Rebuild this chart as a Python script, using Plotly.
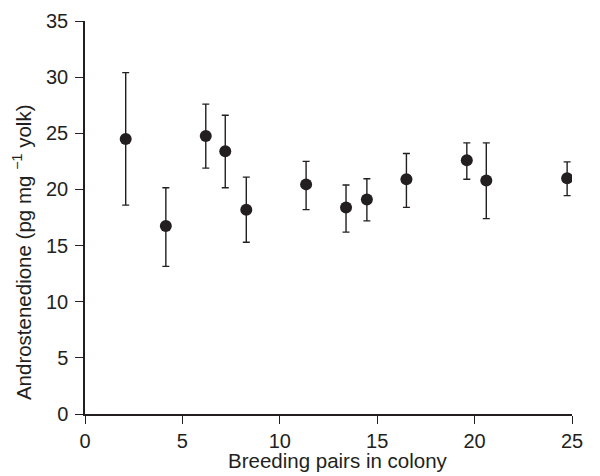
import plotly.graph_objects as go

pairs = [2.09, 4.15, 6.2, 7.2, 8.28, 11.35, 13.4, 14.47, 16.5, 19.6, 20.6, 24.75]
andro = [24.5, 16.75, 24.75, 23.4, 18.2, 20.45, 18.4, 19.1, 20.9, 22.6, 20.8, 21.0]
upper = [30.4, 20.15, 27.6, 26.6, 21.1, 22.5, 20.4, 20.95, 23.2, 24.15, 24.15, 22.45]
lower = [18.6, 13.15, 21.9, 20.15, 15.3, 18.2, 16.2, 17.2, 18.4, 20.9, 17.4, 19.45]

err_plus = [u - m for u, m in zip(upper, andro)]
err_minus = [m - l for m, l in zip(andro, lower)]

ink = "#231f20"
font = "Liberation Sans, Arial, sans-serif"

fig = go.Figure(go.Scatter(
    x=pairs, y=andro, mode="markers",
    marker=dict(size=12, color=ink),
    error_y=dict(type="data", symmetric=False, array=err_plus, arrayminus=err_minus,
                 color=ink, thickness=1.4, width=3.5),
    showlegend=False,
))

# the page has an 8px body margin, so the figure is 8px smaller than the window
fig.update_layout(
    width=592, height=468,
    margin=dict(l=77, r=28, t=13, b=62),
    paper_bgcolor="white", plot_bgcolor="white",
    font=dict(family=font, size=20, color=ink),
    xaxis=dict(range=[0, 25], tickvals=[0, 5, 10, 15, 20, 25], showgrid=False, zeroline=False,
               showline=True, linecolor=ink, linewidth=1.5, ticks="outside", ticklen=8,
               tickcolor=ink, tickwidth=1.2, automargin=False),
    yaxis=dict(range=[0, 35], tickvals=[0, 5, 10, 15, 20, 25, 30, 35], showgrid=False, zeroline=False,
               showline=True, linecolor=ink, linewidth=1.5, ticks="outside", ticklen=8,
               tickcolor=ink, tickwidth=1.2, automargin=False, ticklabelstandoff=3),
    annotations=[
        dict(text="Androstenedione (pg mg <sup>\u22121</sup> yolk)",
             xref="paper", yref="paper", x=0, y=0.412, xshift=-63,
             xanchor="center", yanchor="middle", textangle=-90, showarrow=False,
             font=dict(size=20.5, color=ink, family=font)),
        dict(text="Breeding pairs in colony",
             xref="paper", yref="paper", x=0.5, y=0, xshift=9, yshift=-33,
             xanchor="center", yanchor="top", showarrow=False,
             font=dict(size=20.5, color=ink, family=font)),
    ],
)

fig.write_html("out.html")
